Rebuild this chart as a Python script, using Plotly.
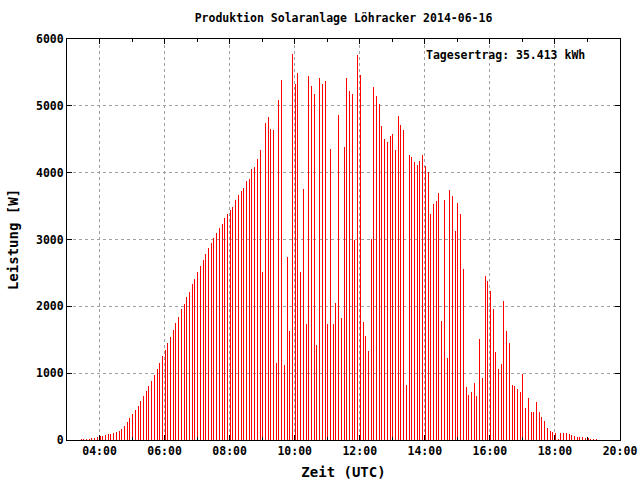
import pandas as pd
import plotly.graph_objects as go

title_text = "Produktion Solaranlage Löhracker 2014-06-16"
yield_text = "Tagesertrag: 35.413 kWh"
x_title = "Zeit (UTC)"
y_title = "Leistung [W]"

start_time = "2014-06-16 03:26"
interval = "5min"

# Power in W, one value per 5-minute sample
power_w = [
    15, 15, 15, 20, 30, 30, 45, 60, 60, 75,
    90, 90, 105, 120, 135, 165, 210, 270, 330, 390,
    450, 510, 585, 660, 735, 810, 885, 975, 1065, 1155,
    1260, 1350, 1455, 1541, 1646, 1751, 1841, 1960, 2035, 2140,
    2215, 2334, 2409, 2514, 2604, 2694, 2783, 2873, 2948, 3023,
    3098, 3172, 3232, 3322, 3382, 3442, 3487, 3591, 3666, 3726,
    3771, 3876, 3906, 4055, 4085, 4205, 4340, 2514, 4744, 4833,
    4659, 4639, 1152, 5088, 5387, 1122, 2738, 1631, 5776, 5327,
    5492, 2514, 3756, 1736, 5447, 5297, 5178, 1422, 5417, 5327,
    5372, 1736, 4355, 1736, 2050, 4863, 1826, 4384, 5417, 5222,
    5178, 2993, 5761, 5462, 1766, 1556, 1332, 3008, 5282, 5148,
    5028, 4699, 4504, 4459, 4549, 4579, 4340, 4848, 4714, 4639,
    823, 4265, 4235, 4160, 4115, 4175, 4265, 4100, 4010, 3382,
    3532, 3576, 3696, 1781, 3591, 1227, 3741, 3651, 3128, 3547,
    3382, 2559, 793, 673, 718, 853, 658, 1511, 928, 2454,
    2379, 2230, 1960, 1317, 1062, 1137, 2080, 1631, 1452, 823,
    808, 763, 718, 988, 479, 628, 419, 419, 569, 419,
    344, 284, 180, 135, 120, 105, 15, 105, 105, 105,
    90, 75, 60, 45, 45, 45, 30, 30, 15, 15,
    15,
]

times = pd.date_range(start_time, periods=len(power_w), freq=interval)

x_range = ["2014-06-16 03:00", "2014-06-16 20:00"]
y_range = [0, 6000]

plot_w_px = 553
hours = 17
bar_width_ms = 1.0 / (plot_w_px / hours) * 3600 * 1000  # about 1 px

font_family = "DejaVu Sans Mono"

fig = go.Figure(
    go.Bar(
        x=times,
        y=power_w,
        width=bar_width_ms,
        marker=dict(color="rgba(255,0,0,0.995)", line=dict(width=0)),
        hoverinfo="x+y",
    )
)

grid_color = "#a0a0a0"

fig.update_layout(
    width=640,
    height=480,
    margin=dict(l=67, r=20, t=39, b=40),
    paper_bgcolor="white",
    plot_bgcolor="white",
    bargap=0,
    bargroupgap=0,
    showlegend=False,
    font=dict(family=font_family, size=11.5, color="black", weight="bold"),
    title=dict(
        text=title_text,
        x=0.5,
        xref="paper",
        xanchor="center",
        y=1 - 18 / 480,
        yref="container",
        yanchor="middle",
        font=dict(family=font_family, size=11.5, color="black", weight="bold"),
    ),
    xaxis=dict(
        type="date",
        range=x_range,
        tickformat="%H:%M",
        tick0="2014-06-16 04:00",
        dtick=2 * 3600 * 1000,
        ticks="inside",
        ticklen=5,
        tickwidth=1,
        tickcolor="black",
        showline=True,
        linecolor="black",
        linewidth=1,
        mirror="ticks",
        showgrid=True,
        gridcolor=grid_color,
        gridwidth=1,
        griddash="3px,3px",
        zeroline=False,
        minor=dict(
            tick0="2014-06-16 03:00",
            dtick=3600 * 1000,
            ticks="inside",
            ticklen=3,
            tickcolor="black",
            showgrid=False,
        ),
        title=dict(text=x_title, standoff=10),
        automargin=False,
    ),
    yaxis=dict(
        range=y_range,
        tick0=0,
        dtick=1000,
        ticks="inside",
        ticklen=5,
        tickwidth=1,
        tickcolor="black",
        showline=True,
        linecolor="black",
        linewidth=1,
        mirror="ticks",
        showgrid=True,
        gridcolor=grid_color,
        gridwidth=1,
        griddash="3px,3px",
        zeroline=False,
        title=dict(text=y_title, standoff=14),
        automargin=False,
    ),
    annotations=[
        dict(
            text=yield_text,
            xref="paper",
            yref="paper",
            x=(587 - 67) / 553,
            y=(440 - 55) / 401,
            xanchor="right",
            yanchor="middle",
            showarrow=False,
            font=dict(family=font_family, size=11.5, color="black", weight="bold"),
        )
    ],
)

fig.write_html(
    "out.html",
    config={"displayModeBar": False},
    post_script="document.body.style.margin='0';document.body.style.overflow='hidden';",
)
